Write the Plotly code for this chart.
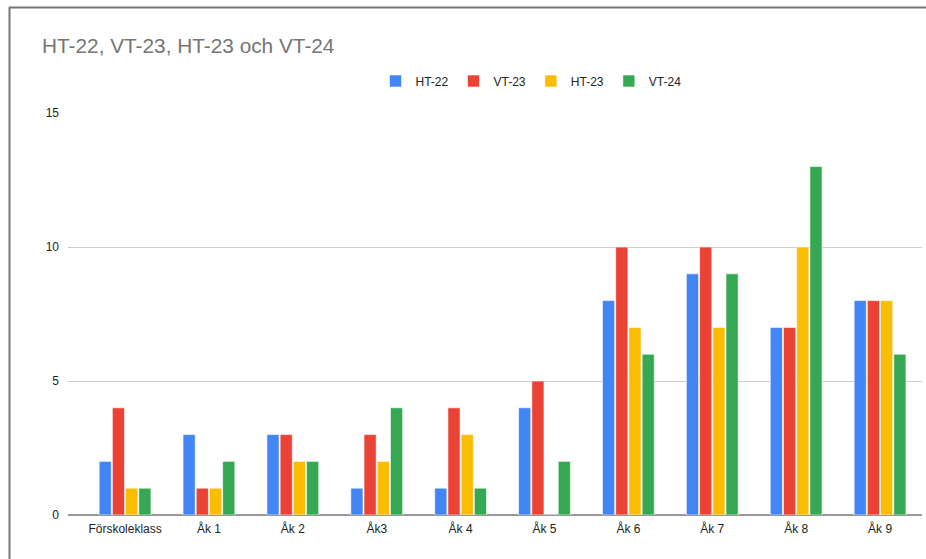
import plotly.graph_objects as go

categories = ["Förskoleklass", "Åk 1", "Åk 2", "Åk3", "Åk 4", "Åk 5", "Åk 6", "Åk 7", "Åk 8", "Åk 9"]
ht22 = [2, 3, 3, 1, 1, 4, 8, 9, 7, 8]
vt23 = [4, 1, 3, 3, 4, 5, 10, 10, 7, 8]
ht23 = [1, 1, 2, 2, 3, 0, 7, 7, 10, 8]
vt24 = [1, 2, 2, 4, 1, 2, 6, 9, 13, 6]

series = [
    ("HT-22", ht22, "#4285f4"),
    ("VT-23", vt23, "#ea4335"),
    ("HT-23", ht23, "#fbbc04"),
    ("VT-24", vt24, "#34a853"),
]

fig = go.Figure()
for name, vals, col in series:
    fig.add_trace(go.Bar(
        x=categories, y=vals, name=name,
        marker=dict(color=col, line=dict(color="white", width=0.6)),
    ))

### layout

W, H = 926, 559
L, R, T, B = 68, 4, 113, 44
pw, ph = W - L - R, H - T - B

def px_x(p):
    return (p - L) / pw

def px_y(p):
    return (H - B - p) / ph

fig.update_layout(
    width=W, height=H,
    margin=dict(l=L, r=R, t=T, b=B),
    paper_bgcolor="white", plot_bgcolor="white",
    font=dict(family="Liberation Sans, Arial, sans-serif", size=12, color="#222222"),
    title=dict(text="HT-22, VT-23, HT-23 och VT-24", xref="container", yref="container",
               x=42 / W, y=1 - 46 / H, xanchor="left", yanchor="middle",
               font=dict(size=20.8, color="#757575")),
    legend=dict(orientation="h", x=px_x(531), y=px_y(81), xanchor="center", yanchor="middle",
                font=dict(size=12, color="#222222"), itemwidth=30, traceorder="normal"),
    barmode="group", bargap=0.37, bargroupgap=0.08,
    xaxis=dict(range=[-0.68, 9.5], showgrid=False, showline=False, ticks="",
               ticklabelstandoff=5, tickfont=dict(size=12, color="#222222")),
    yaxis=dict(range=[0, 15], tickvals=[0, 5, 10, 15], showgrid=True, gridcolor="#cccccc",
               gridwidth=1, zeroline=True, zerolinecolor="#999999", zerolinewidth=2,
               showline=False, ticks="", ticklabelstandoff=8,
               tickfont=dict(size=12, color="#222222")),
    shapes=[
        dict(type="line", xref="paper", yref="paper", x0=px_x(9), x1=px_x(W + 5),
             y0=px_y(7.5), y1=px_y(7.5), line=dict(color="#777777", width=2)),
        dict(type="line", xref="paper", yref="paper", x0=px_x(9.5), x1=px_x(9.5),
             y0=px_y(7), y1=px_y(H + 5), line=dict(color="#777777", width=2)),
    ],
)

fig.write_html("out.html", config={"displayModeBar": False},
               post_script="document.body.style.margin='0';document.body.style.overflow='hidden';")
